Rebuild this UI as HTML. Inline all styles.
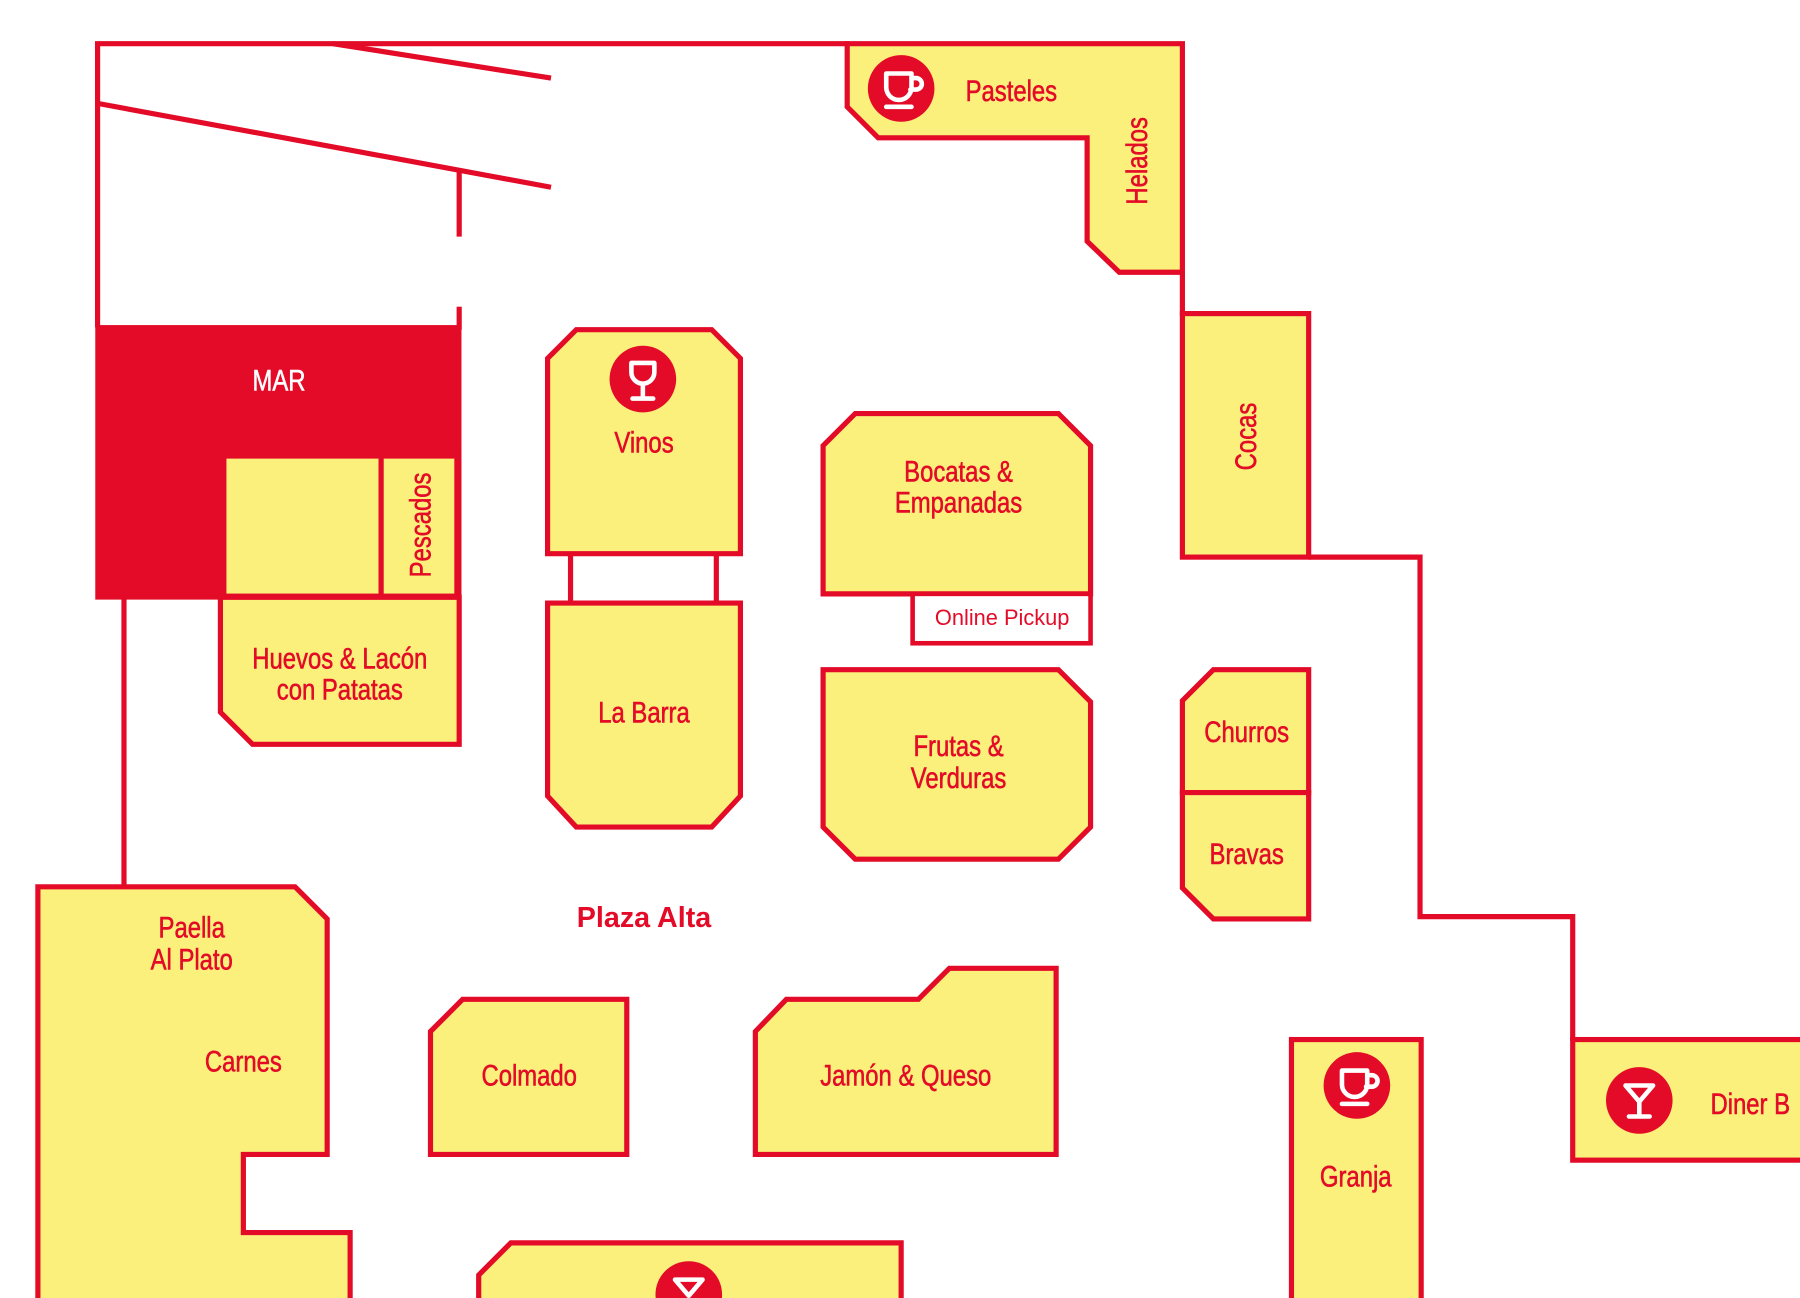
<!DOCTYPE html>
<html><head><meta charset="utf-8">
<style>
html,body{margin:0;padding:0;background:#fff;}
svg{display:block;}
.s{fill:#fbf07c;stroke:#e30b27;stroke-width:4.5;stroke-linejoin:miter;}
.l{fill:none;stroke:#e30b27;stroke-width:4.5;}
text{font-family:"Liberation Sans",sans-serif;fill:#e30b27;font-size:26px;text-anchor:middle;stroke:#e30b27;stroke-width:0.5;}
.ic{fill:#e30b27;}
.w{fill:none;stroke:#fff;stroke-width:4;stroke-linecap:round;stroke-linejoin:round;}
</style></head>
<body>
<svg width="1800" height="1298" viewBox="0 0 1568 1130" preserveAspectRatio="none" xmlns="http://www.w3.org/2000/svg">
<rect width="1568" height="1130" fill="#fff"/>
<polyline class="l" points="85,285 85,38 740,38"/>
<line class="l" x1="290" y1="38" x2="480" y2="68"/>
<line class="l" x1="85" y1="90" x2="480" y2="163"/>
<line class="l" x1="400" y1="150" x2="400" y2="206"/>
<line class="l" x1="400" y1="267" x2="400" y2="287"/>
<rect x="85" y="285" width="315" height="235" fill="#e30b27" stroke="#e30b27" stroke-width="4"/>
<text transform="translate(243,340) scale(.8,1)" style="fill:#fff;stroke:#fff">MAR</text>
<rect class="s" x="195" y="397" width="137" height="122"/>
<rect class="s" x="332" y="397" width="66" height="122"/>
<text transform="translate(375,457) rotate(-90) scale(.8,1)">Pescados</text>
<line class="l" x1="108" y1="520" x2="108" y2="772"/>
<polygon class="s" points="192,520 400,520 400,648 220,648 192,620"/>
<text transform="translate(296,582) scale(.8,1)">Huevos &amp; Lacón</text>
<text transform="translate(296,609) scale(.8,1)">con Patatas</text>
<polygon class="s" points="738,38 1030,38 1030,237 975,237 947,210 947,120 765,120 738,93"/>
<text transform="translate(881,88) scale(.8,1)">Pasteles</text>
<text transform="translate(999,140) rotate(-90) scale(.8,1)">Helados</text>
<circle class="ic" cx="785" cy="77" r="29"/>
<path class="w" d="M772,64 h22 v12 a11,11 0 0 1 -22,0 z M794,68 h4 a5,5 0 0 1 0,10 h-5 M772,93 h22"/>
<line class="l" x1="1030" y1="237" x2="1030" y2="275"/>
<rect class="s" x="1030" y="273" width="110" height="212"/>
<text transform="translate(1094,380) rotate(-90) scale(.8,1)">Cocas</text>
<polyline class="l" points="1140,485 1237,485 1237,798 1370,798 1370,906"/>
<polygon class="s" points="502,287 620,287 645,312 645,482 477,482 477,312"/>
<circle class="ic" cx="560" cy="330" r="29"/>
<path class="w" d="M550,316 h20 v8 a10,10 0 0 1 -20,0 z M560,334 v12 M551,347 h18"/>
<text transform="translate(561,394) scale(.8,1)">Vinos</text>
<line class="l" x1="497" y1="482" x2="497" y2="525"/>
<line class="l" x1="624" y1="482" x2="624" y2="525"/>
<polygon class="s" points="477,525 645,525 645,693 620,720 502,720 477,693"/>
<text transform="translate(561,629) scale(.8,1)">La Barra</text>
<polygon class="s" points="745,360 922,360 950,388 950,517 717,517 717,388"/>
<text transform="translate(835,419) scale(.8,1)">Bocatas &amp;</text>
<text transform="translate(835,446) scale(.8,1)">Empanadas</text>
<rect x="795" y="517" width="155" height="43" fill="#fff" stroke="#e30b27" stroke-width="4"/>
<text x="873" y="544" style="font-size:19px;stroke:none">Online Pickup</text>
<polygon class="s" points="717,583 922,583 950,611 950,720 922,748 745,748 717,720"/>
<text transform="translate(835,658) scale(.8,1)">Frutas &amp;</text>
<text transform="translate(835,686) scale(.8,1)">Verduras</text>
<polygon class="s" points="1057,583 1140,583 1140,690 1030,690 1030,610"/>
<text transform="translate(1086,646) scale(.8,1)">Churros</text>
<polygon class="s" points="1030,690 1140,690 1140,800 1057,800 1030,773"/>
<text transform="translate(1086,752) scale(.8,1)">Bravas</text>
<text x="561" y="807" style="font-weight:bold;font-size:25px;stroke:none">Plaza Alta</text>
<polygon class="s" points="33,1135 33,772 257,772 285,800 285,1005 212,1005 212,1073 305,1073 305,1135"/>
<text transform="translate(167,816) scale(.8,1)">Paella</text>
<text transform="translate(167,844) scale(.8,1)">Al Plato</text>
<text transform="translate(212,933) scale(.8,1)">Carnes</text>
<polygon class="s" points="403,870 546,870 546,1005 375,1005 375,898"/>
<text transform="translate(461,945) scale(.8,1)">Colmado</text>
<polygon class="s" points="685,870 800,870 827,843 920,843 920,1005 658,1005 658,898"/>
<text transform="translate(789,945) scale(.8,1)">Jamón &amp; Queso</text>
<rect class="s" x="1125" y="905" width="113" height="235"/>
<circle class="ic" cx="1182" cy="945" r="29"/>
<path class="w" d="M1169,932 h22 v12 a11,11 0 0 1 -22,0 z M1191,936 h4 a5,5 0 0 1 0,10 h-5 M1169,961 h22"/>
<text transform="translate(1181,1033) scale(.8,1)">Granja</text>
<rect class="s" x="1370" y="905" width="210" height="105"/>
<circle class="ic" cx="1428" cy="958" r="29"/>
<path class="w" d="M1416,945 h24 l-12,14 z M1428,959 v12 M1419,972 h18"/>
<text transform="translate(1490,970) scale(.8,1)" style="text-anchor:start">Diner B</text>
<polygon class="s" points="417,1140 417,1110 445,1082 785,1082 785,1140"/>
<circle class="ic" cx="600" cy="1127" r="29"/>
<path class="w" d="M588,1114 h24 l-12,14 z"/>
<text x="1568" y="1125" style="text-anchor:start">S</text>
</svg>
</body></html>
